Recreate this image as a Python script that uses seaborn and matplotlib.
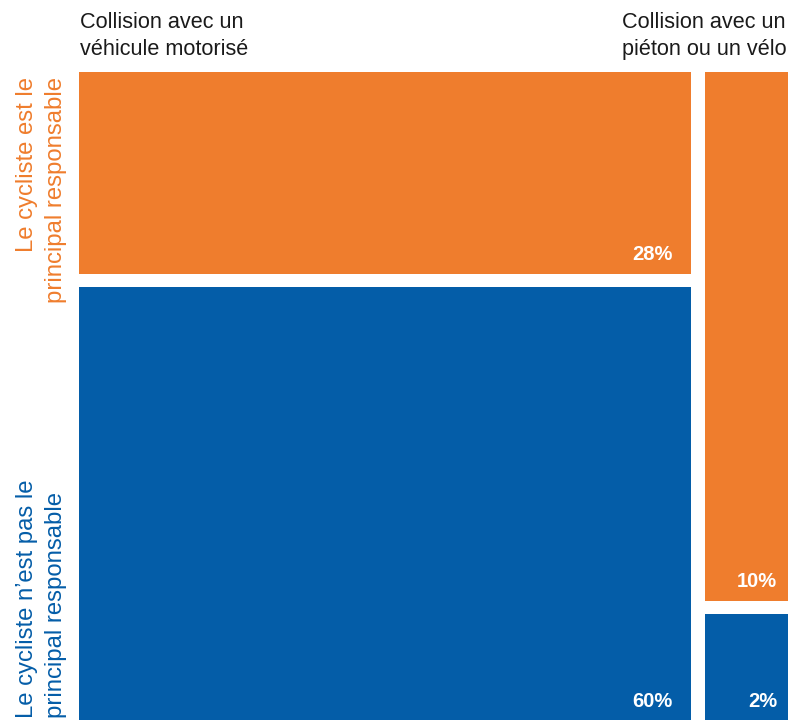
import matplotlib
matplotlib.use("Agg")
import matplotlib.pyplot as plt
import pandas as pd
import seaborn as sns

# Data: share of cyclist injuries by collision type and responsibility
collisions = ["Collision avec un\nvéhicule motorisé", "Collision avec un\npiéton ou un vélo"]
responsabilite = ["Le cycliste est le\nprincipal responsable",
                  "Le cycliste n’est pas le\nprincipal responsable"]
cycliste_responsable = [28, 10]
cycliste_non_responsable = [60, 2]

ORANGE = "#EF7D2D"
BLUE = "#045DA8"

sns.set_theme(style="white")
plt.rcParams["font.family"] = ["Liberation Sans", "DejaVu Sans"]

df = pd.DataFrame({
    "collision": collisions,
    "responsable": cycliste_responsable,
    "non_responsable": cycliste_non_responsable,
})
df["total"] = df["responsable"] + df["non_responsable"]

W, H = 792, 720
fig = plt.figure(figsize=(W / 100, H / 100), dpi=100)

left_px, top_px = 79.3, 71.5
ax = fig.add_axes([left_px / W, 0, 1 - left_px / W, 1 - top_px / H])

px_per_unit = 611.4 / df["total"].iloc[0]
gap_x = 14.3 / px_per_unit
gap_y = 13.5 / (H - top_px - 13.5) * 100

ax.set_xlim(0, (W - left_px) / px_per_unit)
ax.set_ylim(0, 100 + gap_y)
ax.axis("off")

label_pad = [(18, 13), (11, 13)]

x0 = 0.0
for i, row in df.iterrows():
    w = row["total"]
    h_blue = row["non_responsable"] / row["total"] * 100
    h_orange = row["responsable"] / row["total"] * 100
    b_orange = h_blue + gap_y
    ax.bar(x0, h_blue, width=w, bottom=0, align="edge", color=BLUE, linewidth=0)
    ax.bar(x0, h_orange, width=w, bottom=b_orange, align="edge", color=ORANGE, linewidth=0)

    px, py = label_pad[i]
    ax.annotate(f"{row['non_responsable']}%", xy=(x0 + w, 0), xytext=(-px, py),
                textcoords="offset pixels", ha="right", va="baseline",
                color="white", fontsize=14.5, fontweight="bold")
    ax.annotate(f"{row['responsable']}%", xy=(x0 + w, b_orange), xytext=(-px, py + 1),
                textcoords="offset pixels", ha="right", va="baseline",
                color="white", fontsize=14.5, fontweight="bold")
    x0 += w + gap_x

# Column headers
for text, xpx in zip(collisions, [80, 622]):
    fig.text(xpx / W, 1 - 12 / H, text, ha="left", va="top",
             fontsize=15.6, color="#1a1a1a", linespacing=1.38)

# Row headers
fig.text(16 / W, 1 - 77 / H, responsabilite[0], rotation=90, ha="left", va="top",
         multialignment="right", fontsize=17.2, color=ORANGE, linespacing=1.42)
fig.text(16 / W, 1 - 718 / H, responsabilite[1], rotation=90, ha="left", va="bottom",
         multialignment="left", fontsize=17.2, color=BLUE, linespacing=1.42)

fig.savefig("out.png", dpi=100)
